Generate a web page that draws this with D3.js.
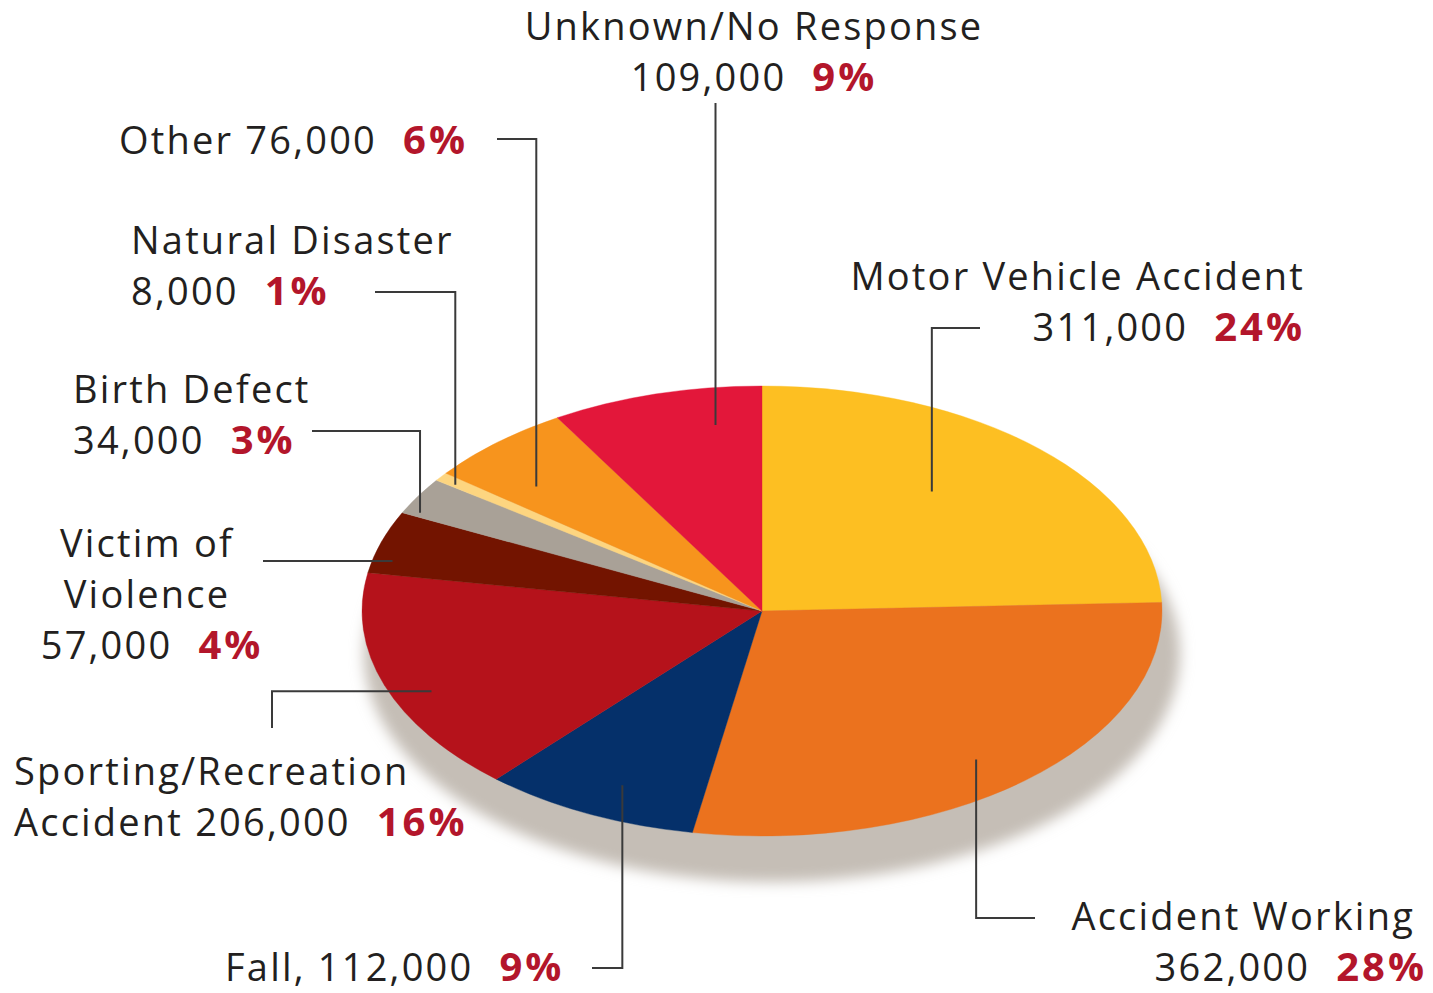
<!DOCTYPE html>
<html>
<head>
  <meta charset="utf-8">
  <title>Causes of paralysis</title>
  <script src="https://cdn.jsdelivr.net/npm/d3@7/dist/d3.min.js"></script>
  <style>
    body { margin: 0; background: #fff; }
    text { font-family: "Open Sans", "Noto Sans", sans-serif; font-size: 38px; letter-spacing: 2.2px; fill: #231f20; }
    .pct { font-weight: bold; font-size: 40px; letter-spacing: 3px; fill: #b3162b; }
    .leader { fill: none; stroke: #3a3a3a; stroke-width: 2; }
  </style>
</head>
<body>
  <svg id="chart"></svg>

  <script>
    // slices, clockwise from 12 o'clock
    var categories = ['Motor Vehicle Accident', 'Accident Working', 'Fall', 'Sporting/Recreation|Accident',
      'Victim of|Violence', 'Birth Defect', 'Natural Disaster', 'Other', 'Unknown/No Response'];
    var values = [311000, 362000, 112000, 206000, 57000, 34000, 8000, 76000, 109000];
    var percents = ['24%', '28%', '9%', '16%', '4%', '3%', '1%', '6%', '9%'];
    var colors = ['#fdbf22', '#eb721e', '#05306a', '#b5121b', '#731400', '#a9a197', '#fdd580', '#f7941d', '#e3173a'];

    // label placement; t/r place the leader end inside its slice
    var labels = [
      { tpl: '{name}|{value}{pct}', anchor: 'end', x: [1305, 1305], y: 290, t: 0.44, r: 0.68, leader: 'vh', ey: 328, ex: 980 },
      { tpl: '{name}|{value}{pct}', anchor: 'end', x: [1415, 1427], y: 930, t: 0.52, r: 0.85, leader: 'vh', ey: 918, ex: 1035 },
      { tpl: '{name}, {value}{pct}', anchor: 'start', x: [225], y: 981, t: 0.45, r: 0.85, leader: 'vh', ey: 968, ex: 592 },
      { tpl: '{name} {value}{pct}', anchor: 'start', x: [14, 14], y: 785, t: 0.43, r: 0.9, leader: 'hv', ex: 272, ey: 728 },
      { tpl: '{name}|{value}{pct}', anchor: 'middle', x: [147, 147, 152], y: 557, t: 0.23, r: 0.95, leader: 'h', ex: 263 },
      { tpl: '{name}|{value}{pct}', anchor: 'start', x: [73, 73], y: 403, t: 0.12, r: 0.96, leader: 'vh', ey: 431, ex: 312 },
      { tpl: '{name}|{value}{pct}', anchor: 'start', x: [131, 131], y: 254, t: 0.3, r: 0.95, leader: 'vh', ey: 292, ex: 375 },
      { tpl: '{name} {value}{pct}', anchor: 'start', x: [119], y: 154, t: 0.31, r: 0.79, leader: 'vh', ey: 139, ex: 497 },
      { tpl: '{name}|{value}{pct}', anchor: 'middle', x: [754, 754], y: 40, t: 0.74, r: 0.835, leader: 'v', ey: 103 }
    ];

    var width = 1433, height = 993;
    var cx = 762, cy = 611, rx = 400, ry = 225;
    var lineHeight = 51;

    var svg = d3.select('#chart')
      .attr('width', width)
      .attr('height', height);

    var defs = svg.append('defs');
    defs.append('filter')
      .attr('id', 'blur')
      .attr('x', '-20%').attr('y', '-20%').attr('width', '140%').attr('height', '140%')
      .append('feGaussianBlur')
      .attr('stdDeviation', 7);

    // drop shadow under the pie
    svg.append('ellipse')
      .attr('cx', cx + 10)
      .attr('cy', cy + 43)
      .attr('rx', rx + 8)
      .attr('ry', ry + 3)
      .attr('fill', '#c5beb6')
      .attr('filter', 'url(#blur)');

    var pie = d3.pie().sort(null).value(d => d);
    var arcs = pie(values);

    var arc = d3.arc()
      .innerRadius(0)
      .outerRadius(rx);

    svg.append('g')
      .attr('transform', 'translate(' + cx + ',' + cy + ') scale(1,' + (ry / rx) + ')')
      .selectAll('path')
      .data(arcs)
      .enter()
      .append('path')
      .attr('d', arc)
      .attr('fill', (d, i) => colors[i])
      .attr('stroke', (d, i) => colors[i])
      .attr('stroke-width', 0.5);

    var fmt = d3.format(',');

    // leader lines
    labels.forEach(function (l, i) {
      var a = arcs[i].startAngle + l.t * (arcs[i].endAngle - arcs[i].startAngle);
      var ax = cx + rx * l.r * Math.sin(a),
        ay = cy - ry * l.r * Math.cos(a);
      var pts;
      if (l.leader == 'vh') pts = [[ax, ay], [ax, l.ey], [l.ex, l.ey]];
      else if (l.leader == 'hv') pts = [[ax, ay], [l.ex, ay], [l.ex, l.ey]];
      else if (l.leader == 'h') pts = [[ax, ay], [l.ex, ay]];
      else pts = [[ax, ay], [ax, l.ey]];
      svg.append('path')
        .attr('class', 'leader')
        .attr('d', d3.line()(pts));
    });

    // label text
    labels.forEach(function (l, i) {
      var full = l.tpl.replace('{name}', categories[i]).replace('{value}', fmt(values[i]));
      full.split('|').forEach(function (line, k) {
        var t = svg.append('text')
          .attr('x', l.x[k])
          .attr('y', l.y + k * lineHeight)
          .attr('text-anchor', l.anchor);
        var parts = line.split('{pct}');
        t.append('tspan').text(parts[0]);
        if (parts.length > 1) {
          t.append('tspan')
            .attr('class', 'pct')
            .attr('dx', 26)
            .text(percents[i]);
        }
      });
    });
  </script>
</body>
</html>
